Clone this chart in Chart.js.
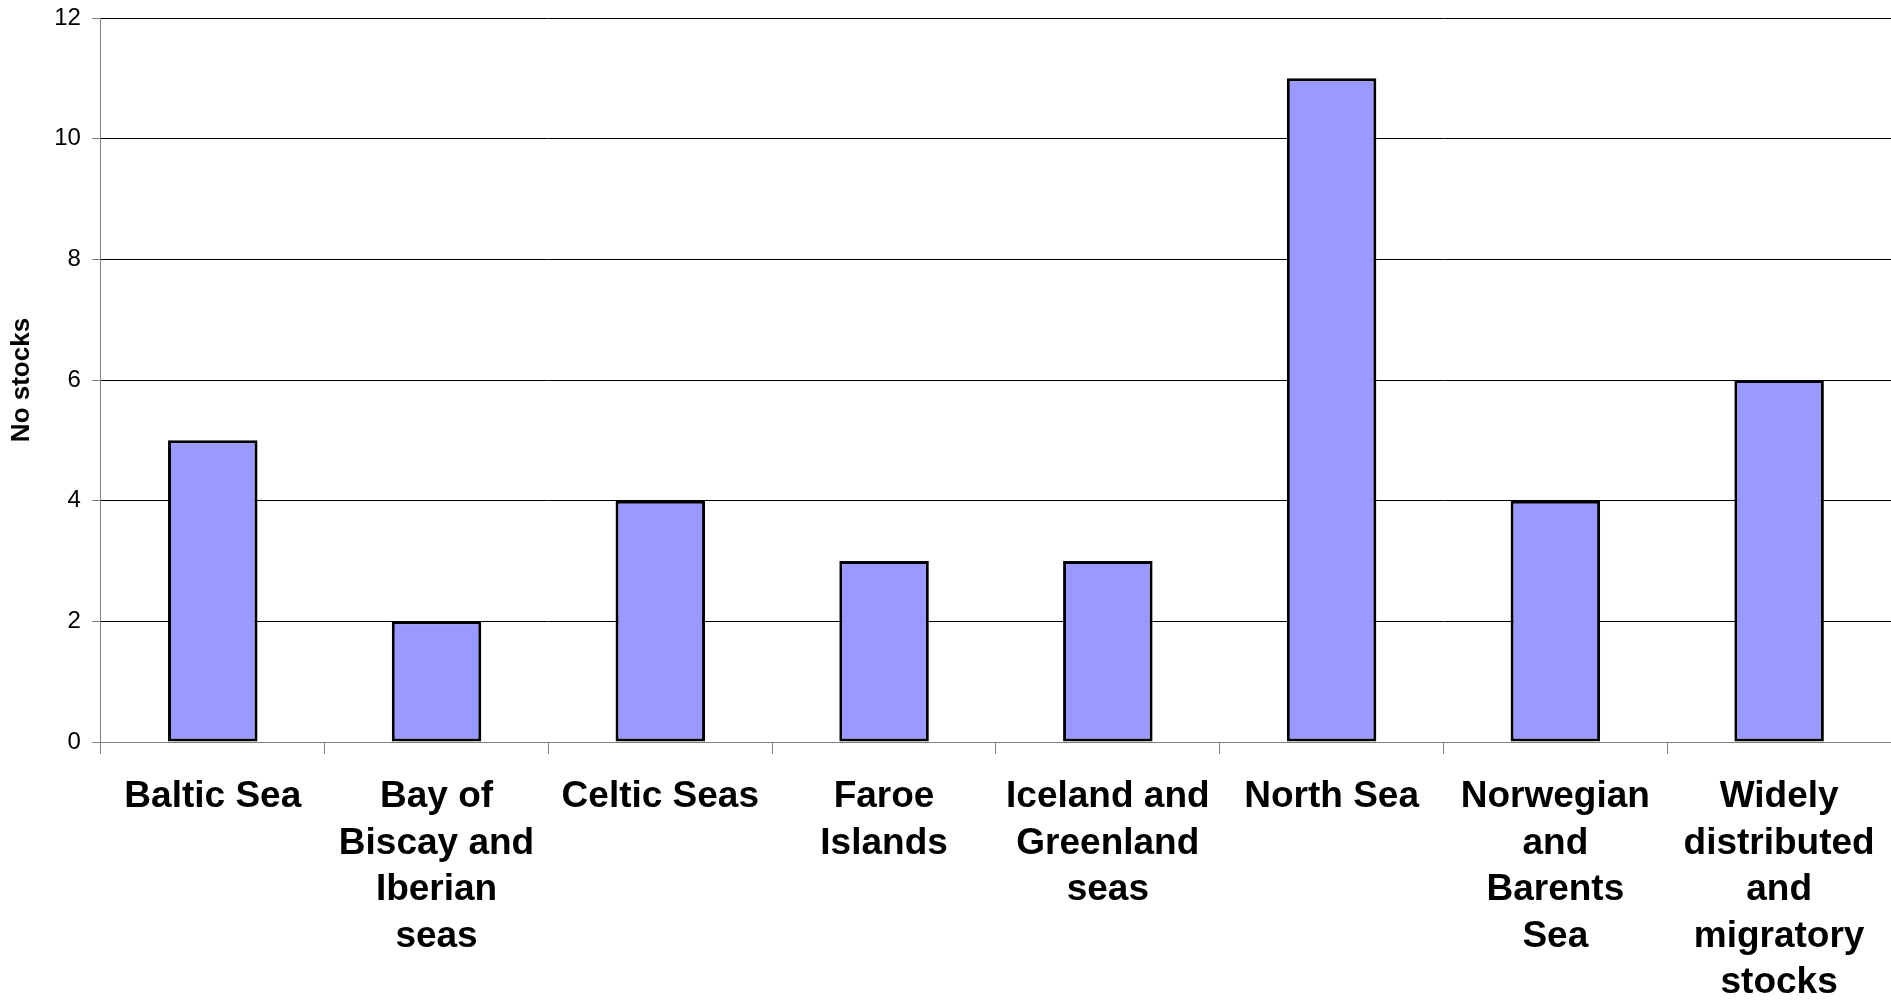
<!DOCTYPE html>
<html>
<head>
<meta charset="utf-8">
<title>No stocks by ecoregion</title>
<script src="https://cdn.jsdelivr.net/npm/chart.js@4/dist/chart.umd.min.js"></script>
<style>
  html, body { margin: 0; padding: 0; background: #fff; }
  #wrap { width: 1891px; height: 1000px; overflow: hidden; }
</style>
</head>
<body>
<div id="wrap"><canvas id="chart" width="1891" height="1000"></canvas></div>
<script>
// Ecoregions (multi-line labels as drawn under the axis)
const regions = [
  'Baltic Sea',
  ['Bay of', 'Biscay and', 'Iberian', 'seas'],
  'Celtic Seas',
  ['Faroe', 'Islands'],
  ['Iceland and', 'Greenland', 'seas'],
  'North Sea',
  ['Norwegian', 'and', 'Barents', 'Sea'],
  ['Widely', 'distributed', 'and', 'migratory', 'stocks']
];

// Number of stocks per ecoregion
const stockCounts = [5, 2, 4, 3, 3, 11, 4, 6];

// Value axis range and step
const yMin = 0;
const yMax = 12;
const yStep = 2;

const axisGray = '#808080';
const fontFamily = '"Liberation Sans", Arial, Helvetica, sans-serif';

new Chart(document.getElementById('chart'), {
  type: 'bar',
  data: {
    labels: regions,
    datasets: [{
      label: 'No stocks',
      data: stockCounts,
      backgroundColor: '#9999FF',
      borderColor: '#000000',
      borderWidth: 3,
      borderSkipped: false,
      categoryPercentage: 0.8,
      barPercentage: 0.5
    }]
  },
  options: {
    responsive: false,
    animation: false,
    devicePixelRatio: 1,
    // the long category labels run slightly past the bottom edge
    layout: { padding: { top: 0, right: 0, bottom: -26, left: 0 } },
    plugins: {
      legend: { display: false },
      tooltip: { enabled: false }
    },
    scales: {
      x: {
        offset: true,
        afterFit(scale) {
          scale.paddingLeft = 0;
          scale.paddingRight = 0;
        },
        grid: {
          offset: true,
          drawOnChartArea: false,
          drawTicks: true,
          tickLength: 12,
          tickColor: axisGray,
          tickWidth: 1
        },
        border: { display: true, color: axisGray, width: 1 },
        ticks: {
          autoSkip: false,
          maxRotation: 0,
          minRotation: 0,
          padding: 20,
          color: '#000',
          font: { family: fontFamily, size: 37, weight: 'bold', lineHeight: '46.4px' }
        }
      },
      y: {
        min: yMin,
        max: yMax,
        afterFit(scale) {
          scale.paddingTop = 18;
        },
        ticks: {
          stepSize: yStep,
          padding: 11,
          color: '#000',
          font: { family: fontFamily, size: 24 }
        },
        grid: {
          color: '#000000',
          lineWidth: 1,
          drawTicks: true,
          tickLength: 9,
          tickColor: axisGray
        },
        border: { display: true, color: axisGray, width: 1 },
        title: {
          display: true,
          text: 'No stocks',
          color: '#000',
          padding: { top: 6, bottom: 6 },
          font: { family: fontFamily, size: 26, weight: 'bold', lineHeight: 1.2 }
        }
      }
    }
  }
});
</script>
</body>
</html>
